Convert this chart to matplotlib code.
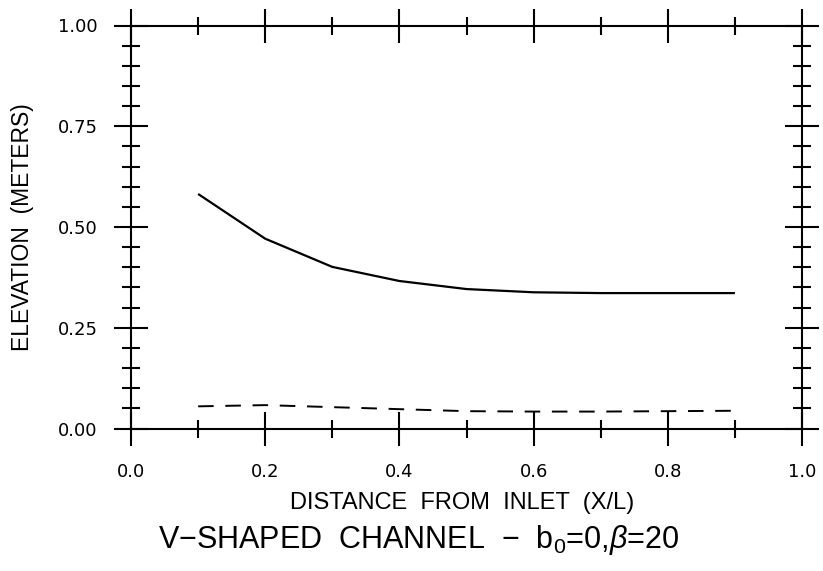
import matplotlib
matplotlib.use("Agg")
import matplotlib.pyplot as plt
from matplotlib.ticker import MultipleLocator

# elevation profiles along the channel
x = [0.1, 0.2, 0.3, 0.4, 0.5, 0.6, 0.7, 0.8, 0.9]
water_surface = [0.582, 0.471, 0.401, 0.366, 0.346, 0.338, 0.336, 0.336, 0.336]
bed = [0.055, 0.058, 0.053, 0.048, 0.043, 0.042, 0.042, 0.043, 0.044]

xticks = [0.0, 0.2, 0.4, 0.6, 0.8, 1.0]
yticks = [0.00, 0.25, 0.50, 0.75, 1.00]

plt.rcParams['font.family'] = ['Liberation Sans', 'DejaVu Sans']
plt.rcParams['mathtext.fontset'] = 'custom'
plt.rcParams['mathtext.rm'] = 'Liberation Sans'
plt.rcParams['mathtext.it'] = 'Liberation Sans:italic'

W, H = 823, 571
fig = plt.figure(figsize=(W / 100, H / 100), dpi=100)
ax = fig.add_axes([131 / W, 1 - 428.5 / H, 671 / W, 403 / H])

ax.plot(x, water_surface, color='black', lw=1.6, solid_capstyle='butt')
ax.plot(x, bed, color='black', lw=1.4, dashes=(8, 6))

ax.set_xlim(0, 1)
ax.set_ylim(0, 1)
ax.set_xticks(xticks)
ax.set_xticklabels(["%.1f" % v for v in xticks], family='DejaVu Sans')
ax.set_yticks(yticks)
ax.set_yticklabels(["%.2f" % v for v in yticks], family='DejaVu Sans')
ax.xaxis.set_minor_locator(MultipleLocator(0.1))
ax.yaxis.set_minor_locator(MultipleLocator(0.05))

for s in ax.spines.values():
    s.set_linewidth(1.5)

ax.tick_params(which='both', direction='inout', top=True, right=True,
               width=1.5, color='black')
ax.tick_params(which='major', length=24, labelsize=13)
ax.tick_params(axis='y', which='major', pad=12)
ax.tick_params(axis='x', which='major', pad=13)
ax.tick_params(which='minor', length=13)

fig.text(462 / W, 1 - 509 / H, "DISTANCE  FROM  INLET  (X/L)", ha='center',
         va='baseline', fontsize=17)
fig.text(23 / W, 1 - 227 / H, "ELEVATION  (METERS)", ha='center',
         va='center', rotation=90, fontsize=16.5)
fig.text(419 / W, 1 - 548 / H,
         r"V$-$SHAPED  CHANNEL  $-$  b$_0$=0,$\it{\beta}$=20",
         ha='center', va='baseline', fontsize=22)

fig.savefig("out.png", dpi=100)
